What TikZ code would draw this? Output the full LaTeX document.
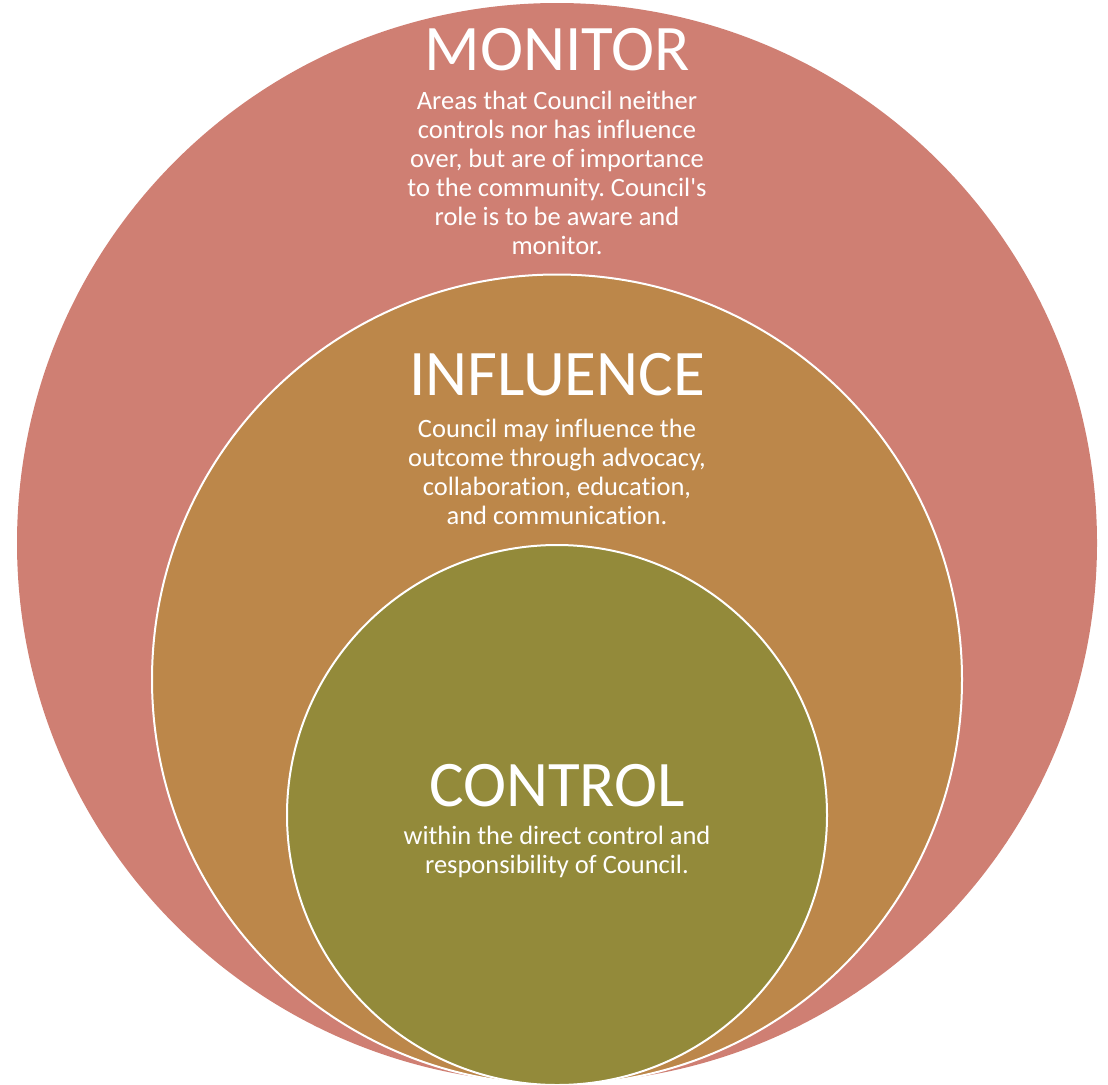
\documentclass[tikz,border=0pt]{standalone}
\usepackage{fontspec}
\setmainfont[Ligatures=NoCommon]{Carlito}
\usetikzlibrary{positioning}

\definecolor{monitorred}{HTML}{CF7F73}
\definecolor{influencebrown}{HTML}{BC874A}
\definecolor{contrololive}{HTML}{938A3A}

\tikzset{
  ring/.style={circle, draw=white, line width=2pt, inner sep=0pt},
  ringtitle/.style={text=white, font=\fontsize{65}{70}\selectfont, anchor=base, inner sep=0pt},
  ringtext/.style={text=white, font=\fontsize{26.5}{29}\selectfont, align=center, anchor=base, inner sep=0pt}
}

\begin{document}
\frenchspacing
\begin{tikzpicture}[x=1pt, y=-1pt]
        \useasboundingbox (0,0) rectangle (1108,1084);
        % circles, tangent at the bottom
        \node[ring, fill=monitorred, draw=none, minimum size=1080pt] (monitor) at (557,543) {};
        \node[ring, fill=influencebrown, minimum size=810pt] (influence) at (557,679.5) {};
        \node[ring, fill=contrololive, minimum size=540pt] (control) at (557,815) {};
        % labels (text nodes sit on the baseline of their last line)
        \node[ringtitle] (monitortitle) at (557,70) {MONITOR};
        \node[ringtext] (monitortext) at (557,254) {Areas that Council neither\\controls nor has influence\\over, but are of importance\\to the community. Council\textquotesingle s\\role is to be aware and\\monitor.};
        \node[ringtitle] (influencetitle) at (557,395) {INFLUENCE};
        \node[ringtext] (influencetext) at (557,524) {Council may influence the\\outcome through advocacy,\\collaboration, education,\\and communication.};
        \node[ringtitle] (controltitle) at (557,806) {CONTROL};
        \node[ringtext] (controltext) at (557,873) {within the direct control and\\responsibility of Council.};
\end{tikzpicture}
\end{document}
